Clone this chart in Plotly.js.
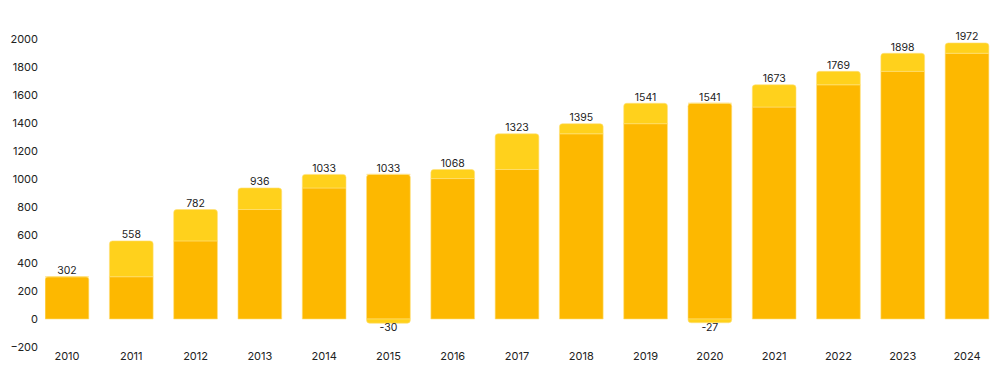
<!DOCTYPE html>
<html><head><meta charset="utf-8">
<script src="https://cdn.plot.ly/plotly-3.0.1.min.js"></script>
<style>html,body{margin:0;padding:0;background:#fff}#c{width:1000px;height:370px}</style>
</head><body><div id="c"></div>
<script>
const years = ['2010','2011','2012','2013','2014','2015','2016','2017','2018','2019','2020','2021','2022','2023','2024'];
const baseVals = [302,302,558,782,936,1033,1003,1068,1323,1395,1541,1514,1673,1769,1898];
const totals = [302,558,782,936,1033,1033,1068,1323,1395,1541,1541,1673,1769,1898,1972];
const negatives = [null,null,null,null,null,-30,null,null,null,null,-27,null,null,null,null];

const dark = '#FDB800', light = '#FFD11C';
const increments = totals.map((t,i)=>t-baseVals[i]);
const axFont = {family:'Inter, Lato, sans-serif', size:11, color:'#222'};
const valFont = {family:'Inter, Lato, sans-serif', size:10.5, color:'#222'};

const traces = [
 {type:'bar', x:years, y:baseVals, marker:{color:dark, line:{color:'#FFE07A', width:0.6}}, width:0.68, hoverinfo:'skip'},
 {type:'bar', x:years, y:increments, marker:{color:light, line:{color:'#FFE07A', width:0.6}}, width:0.68, hoverinfo:'skip'},
 {type:'bar', x:years, y:negatives, marker:{color:light, line:{color:'#FFE07A', width:0.6}}, width:0.68, hoverinfo:'skip'},
 {type:'scatter', mode:'text', x:years, y:totals, text:totals.map(String), textposition:'top center', textfont:valFont, cliponaxis:false, hoverinfo:'skip'},
 {type:'scatter', mode:'text', x:years, y:negatives, text:negatives.map(v=>v===null?'':String(v)), textposition:'bottom center', textfont:valFont, cliponaxis:false, hoverinfo:'skip'}
];
const layout = {
 width:1000, height:370, margin:{l:45, r:0, t:39, b:23},
 barmode:'relative', barcornerradius:3, showlegend:false,
 paper_bgcolor:'#fff', plot_bgcolor:'#fff',
 xaxis:{type:'category', range:[-0.342,14.513], showgrid:false, zeroline:false, showline:false, ticks:'', tickfont:axFont, ticklabelstandoff:1},
 yaxis:{range:[-200,2000], tickvals:[-200,0,200,400,600,800,1000,1200,1400,1600,1800,2000], showgrid:false, zeroline:false, showline:false, ticks:'', tickfont:axFont, ticklabelstandoff:6}
};
Plotly.newPlot('c', traces, layout, {staticPlot:true});
</script></body></html>
